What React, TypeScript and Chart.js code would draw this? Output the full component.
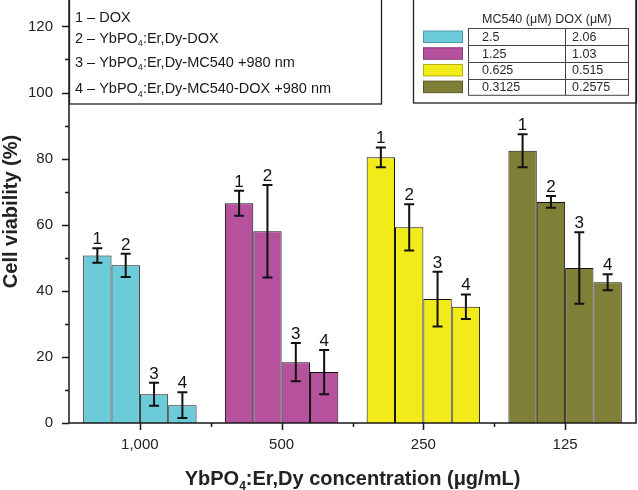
import React, { useEffect, useRef } from 'react';
import { Chart, registerables } from 'chart.js';

Chart.register(...registerables);

// ---- data ----
const categories = ['1,000', '500', '250', '125'];
const seriesLabels = ['1', '2', '3', '4'];
const series1 = [50.7, 66.5, 80.4, 82.4];
const series1Err = [2.2, 3.8, 3.0, 5.0];
const series2 = [47.7, 58.0, 59.2, 66.9];
const series2Err = [3.5, 14.0, 7.0, 1.8];
const series3 = [8.7, 18.4, 37.5, 46.9];
const series3Err = [3.5, 5.8, 8.3, 10.8];
const series4 = [5.4, 15.4, 35.2, 42.6];
const series4Err = [3.9, 6.7, 3.7, 2.4];
const groupColors = ['#6ccbd9', '#b6519e', '#f3eb19', '#7f7f37'];
const swatchBorders = ['#4a9aa8', '#8a3a78', '#b8b010', '#5a5a22'];

const legendLines: [string, string, string][] = [
  ['1 – DOX', '', ''],
  ['2 – YbPO', '4', ':Er,Dy-DOX'],
  ['3 – YbPO', '4', ':Er,Dy-MC540 +980 nm'],
  ['4 – YbPO', '4', ':Er,Dy-MC540-DOX +980 nm'],
];
const tableHeader = 'MC540 (μM) DOX (μM)';
const mc540Values = ['2.5', '1.25', '0.625', '0.3125'];
const doxValues = ['2.06', '1.03', '0.515', '0.2575'];

const yTitle = 'Cell viability (%)';
const xTitleParts: [string, string, string] = ['YbPO', '4', ':Er,Dy concentration (μg/mL)'];

const FONT = '"Liberation Sans", Arial, Helvetica, sans-serif';

const allValues = [series1, series2, series3, series4];
const allErrors = [series1Err, series2Err, series3Err, series4Err];

function drawSubText(ctx: CanvasRenderingContext2D, parts: [string, string, string], x: number, y: number, size: number, weight: string, align: 'left' | 'center') {
  const mainFont = `${weight} ${size}px ${FONT}`;
  const subFont = `${weight} ${Math.round(size * 0.62)}px ${FONT}`;
  ctx.font = mainFont;
  const w1 = ctx.measureText(parts[0]).width;
  const w3 = ctx.measureText(parts[2]).width;
  ctx.font = subFont;
  const w2 = parts[1] ? ctx.measureText(parts[1]).width : 0;
  const total = w1 + w2 + w3;
  let sx = align === 'center' ? x - total / 2 : x;
  ctx.textAlign = 'left';
  ctx.textBaseline = 'alphabetic';
  ctx.font = mainFont;
  ctx.fillText(parts[0], sx, y);
  sx += w1;
  if (parts[1]) {
    ctx.font = subFont;
    ctx.fillText(parts[1], sx, y + size * 0.25);
    sx += w2;
  }
  ctx.font = mainFont;
  ctx.fillText(parts[2], sx, y);
}

const decorPlugin = {
  id: 'decor',
  afterDatasetsDraw(chart: any) {
    const ctx: CanvasRenderingContext2D = chart.ctx;
    const yScale = chart.scales.y;
    ctx.save();
    chart.data.datasets.forEach((ds: any, i: number) => {
      const meta = chart.getDatasetMeta(i);
      meta.data.forEach((el: any, j: number) => {
        const v = allValues[i][j];
        const e = allErrors[i][j];
        const x = el.x;
        const yTop = yScale.getPixelForValue(v + e);
        const yBot = yScale.getPixelForValue(v - e);
        ctx.strokeStyle = '#111';
        ctx.lineWidth = 2;
        ctx.beginPath();
        ctx.moveTo(x, yTop);
        ctx.lineTo(x, yBot);
        ctx.moveTo(x - 5, yTop);
        ctx.lineTo(x + 5, yTop);
        ctx.moveTo(x - 5, yBot);
        ctx.lineTo(x + 5, yBot);
        ctx.stroke();
        ctx.fillStyle = '#111';
        ctx.font = `17px ${FONT}`;
        ctx.textAlign = 'center';
        ctx.textBaseline = 'alphabetic';
        ctx.fillText(seriesLabels[i], x, yTop - 4);
      });
    });
    ctx.restore();
  },
  afterDraw(chart: any) {
    const ctx: CanvasRenderingContext2D = chart.ctx;
    const { left, right, top, bottom } = chart.chartArea;
    const xScale = chart.scales.x;
    const yScale = chart.scales.y;
    ctx.save();
    // frame
    ctx.strokeStyle = '#1a1a1a';
    ctx.lineWidth = 1.5;
    ctx.beginPath();
    ctx.moveTo(left, top);
    ctx.lineTo(left, bottom);
    ctx.lineTo(right, bottom);
    ctx.lineTo(right, top);
    ctx.stroke();
    // y ticks
    ctx.beginPath();
    for (let v = 0; v <= 120; v += 10) {
      const py = Math.round(yScale.getPixelForValue(v)) + 0.5;
      const len = v % 20 === 0 ? 7 : 4;
      ctx.moveTo(left, py);
      ctx.lineTo(left - len, py);
    }
    // x ticks
    for (let i = 0; i < categories.length; i++) {
      const px = Math.round(xScale.getPixelForValue(i)) + 0.5;
      ctx.moveTo(px, bottom);
      ctx.lineTo(px, bottom + 7);
      if (i > 0) {
        const bx = Math.round((xScale.getPixelForValue(i) + xScale.getPixelForValue(i - 1)) / 2) + 0.5;
        ctx.moveTo(bx, bottom);
        ctx.lineTo(bx, bottom + 4);
      }
    }
    ctx.stroke();

    // axis titles
    ctx.fillStyle = '#222';
    ctx.save();
    ctx.translate(11, (top + bottom) / 2);
    ctx.rotate(-Math.PI / 2);
    ctx.font = `bold 20px ${FONT}`;
    ctx.textAlign = 'center';
    ctx.textBaseline = 'middle';
    ctx.fillText(yTitle, 0, 0);
    ctx.restore();
    drawSubText(ctx, xTitleParts, (left + right) / 2, 485, 20, 'bold', 'center');

    // legend box 1
    ctx.strokeStyle = '#222';
    ctx.lineWidth = 1.3;
    ctx.strokeRect(left + 0.5, -1, 312, 105);
    ctx.fillStyle = '#1a1a1a';
    const baselines = [22, 42.5, 66.5, 93];
    legendLines.forEach((ln, k) => {
      drawSubText(ctx, ln, 75, baselines[k], 14.5, 'normal', 'left');
    });

    // legend box 2
    ctx.strokeStyle = '#222';
    ctx.strokeRect(413.5, -1, 223, 104);
    ctx.fillStyle = '#2a2a2a';
    ctx.font = `12.5px ${FONT}`;
    ctx.textAlign = 'left';
    ctx.textBaseline = 'alphabetic';
    ctx.fillText(tableHeader, 482, 22.5);
    const tx0 = 468.5, tx1 = 628.5, ty0 = 28.5, rowH = 16.7, colX = 565.5;
    ctx.strokeStyle = '#444';
    ctx.lineWidth = 1;
    ctx.strokeRect(tx0, ty0, tx1 - tx0, rowH * 4);
    ctx.beginPath();
    for (let r = 1; r < 4; r++) {
      const yy = Math.round(ty0 + rowH * r) + 0.5;
      ctx.moveTo(tx0, yy);
      ctx.lineTo(tx1, yy);
    }
    ctx.moveTo(colX, ty0);
    ctx.lineTo(colX, ty0 + rowH * 4);
    ctx.stroke();
    ctx.font = `12.5px ${FONT}`;
    ctx.textBaseline = 'middle';
    for (let r = 0; r < 4; r++) {
      const cy = ty0 + rowH * r + rowH / 2;
      ctx.fillStyle = groupColors[r];
      ctx.fillRect(423, cy - 5.8, 40, 11.5);
      ctx.strokeStyle = swatchBorders[r];
      ctx.strokeRect(423.5, cy - 5.8, 39, 11.5);
      ctx.fillStyle = '#2a2a2a';
      ctx.fillText(mc540Values[r], 482, cy + 0.5);
      ctx.fillText(doxValues[r], 572, cy + 0.5);
    }
    ctx.restore();
  },
};

export default function App() {
  const ref = useRef<HTMLCanvasElement | null>(null);
  useEffect(() => {
    if (!ref.current) return;
    const chart = new Chart(ref.current, {
      type: 'bar',
      data: {
        labels: categories,
        datasets: allValues.map((vals, i) => ({
          label: seriesLabels[i],
          data: vals,
          backgroundColor: groupColors,
          borderColor: '#111',
          borderWidth: 1,
          inflateAmount: 0,
          barPercentage: 1,
          categoryPercentage: 0.8,
        })),
      },
      options: {
        responsive: false,
        animation: false,
        devicePixelRatio: 1,
        layout: { padding: { top: 0, right: 2, left: 0, bottom: 0 } },
        plugins: {
          legend: { display: false },
          tooltip: { enabled: false },
          title: { display: false },
        },
        scales: {
          x: {
            type: 'category',
            grid: { display: false, drawTicks: false },
            border: { display: false },
            ticks: {
              font: { family: FONT, size: 15 },
              color: '#222',
              padding: 13,
              maxRotation: 0,
              autoSkip: false,
            },
            afterFit: (s: any) => {
              s.height = 67;
              s.paddingLeft = 0;
              s.paddingRight = 0;
              s.paddingTop = 0;
              s.paddingBottom = 0;
            },
          },
          y: {
            min: 0,
            max: 128,
            grid: { display: false, drawTicks: false },
            border: { display: false },
            ticks: {
              stepSize: 20,
              font: { family: FONT, size: 15 },
              color: '#222',
              padding: 16,
            },
            afterBuildTicks: (s: any) => {
              s.ticks = s.ticks.filter((t: any) => t.value % 20 === 0);
            },
            afterFit: (s: any) => {
              s.width = 69;
              s.paddingTop = 0;
              s.paddingBottom = 0;
              s.paddingLeft = 0;
              s.paddingRight = 0;
            },
          },
        },
      },
      plugins: [decorPlugin],
    } as any);
    return () => chart.destroy();
  }, []);
  return (
    <div style={{ position: 'absolute', left: 0, top: 0, width: 638, height: 490, background: '#fff' }}>
      <canvas ref={ref} width={638} height={490} style={{ display: 'block' }} />
    </div>
  );
}
